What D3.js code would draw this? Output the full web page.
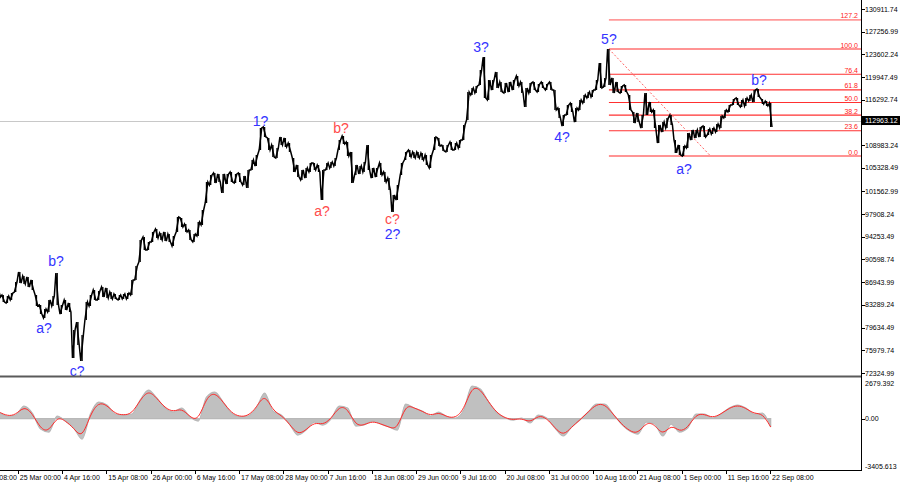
<!DOCTYPE html>
<html><head><meta charset="utf-8">
<script src="https://cdn.jsdelivr.net/npm/d3@7"></script>
<style>
html,body{margin:0;padding:0;background:#fff;overflow:hidden}
svg{display:block;font-family:"Liberation Sans",Arial,sans-serif}
</style>
</head><body>
<svg id="c" width="900" height="485"></svg>
<script>
// ---------- DATA ----------
const firstDay = "2025-03-20T12:00";   // one bar group per day
const highs = [86170,84880,84720,85200,86970,88580,87940,87780,87290,84880,
83270,82630,84080,84720,88420,83270,84080,83590,79250,80530,
78440,83750,84880,85680,85520,86170,86010,85360,85040,84880,
85040,85200,87290,89550,93730,94220,93410,95020,95500,94860,
95020,94700,94380,97430,97270,96310,95340,94700,96630,98560,
103070,104190,104520,104360,104360,104360,104680,104360,104520,104030,
105000,106610,107410,111760,111920,110150,109020,108540,110310,110150,
109340,106930,105800,105000,105320,106130,106130,105800,105000,106130,
106290,106930,109830,110470,109510,107900,105800,105640,106290,109020,
105320,105320,106130,104680,103710,100980,102580,106130,107900,108220,
107900,107900,107740,107410,107410,110310,110150,109020,109020,109510,
109340,109830,112240,117550,118200,118520,121090,123190,119480,119480,
120770,119160,119000,119160,119480,120130,119160,118200,119000,119160,
118840,119160,118840,119160,117870,114980,113850,115460,115780,114980,
116270,117070,117550,117870,119480,122220,119810,124470,119810,119160,
118520,118680,117070,114330,114170,113850,117390,115940,114660,112240,
112720,113370,113850,109830,109020,108860,110950,111440,111440,111920,
112080,111600,111760,112400,113690,114660,115460,116430,116590,116270,
116590,117070,117870,118040,116430,116100,115780];
const lows = [84560,83750,83590,84080,85360,86810,86650,86170,85680,83110,
81820,81180,82140,83110,83270,81820,82470,82140,74740,76830,
74260,80860,83110,84080,84080,84560,84400,84240,84240,84080,
84240,84240,84880,87290,90190,92120,92120,93410,94050,93730,
93570,93410,92770,95020,95820,95020,93730,93410,94380,96150,
99690,102580,102910,103070,101300,102750,103070,102910,103070,102580,
102100,105000,105640,108220,110310,108220,107090,106930,109020,108700,
107900,104680,103870,103390,103710,104680,105000,104680,100170,105000,
105320,105640,108220,109180,107250,102910,104190,104360,104680,105000,
103710,103870,104190,103070,101780,98240,100170,104190,106610,107090,
106930,106930,106610,105800,105320,108220,108860,108060,107900,108220,
108220,108540,109830,113050,117070,117390,118680,116590,116270,117870,
118200,117550,117390,117550,117870,118520,117390,115140,117390,117870,
117550,118200,117870,117870,114660,113370,112080,113850,114330,112720,
114660,115780,116590,116750,117870,118200,118360,118680,117390,117550,
117390,117550,114660,112560,112720,111760,113850,114330,111760,109340,
111120,111760,112240,107740,107410,107250,108540,109830,110150,110310,
110310,110630,110790,111120,111760,113370,114330,115460,115460,115140,
115300,116100,115940,116750,115620,115300,111920];

const yTickLabels = ["130911.74","127256.99","123602.24","119947.49","116292.74",
  "108983.24","105328.49","101562.99","97908.24","94253.49","90598.74","86943.99",
  "83289.24","79634.49","75979.74","72324.99"];
const priceMin = 72324.99, priceMax = 130911.74;
const currentPrice = 112963.12;

const xTickLabels = ["14 Mar 08:00","25 Mar 00:00","4 Apr 16:00","15 Apr 08:00","26 Apr 00:00",
  "6 May 16:00","17 May 08:00","28 May 00:00","7 Jun 16:00","18 Jun 08:00","29 Jun 00:00",
  "9 Jul 16:00","20 Jul 08:00","31 Jul 00:00","10 Aug 16:00","21 Aug 08:00","1 Sep 00:00",
  "11 Sep 16:00","22 Sep 08:00"];

const fibStart = "2025-08-14T12:00";
const fibHigh = 124470, fibLow = 107250;
const fibLevels = ["0.0","23.6","38.2","50.0","61.8","76.4","100.0","127.2"];
const trendLine = [["2025-08-14T12:00",124470],["2025-09-08T00:00",107250]];

const waveText   = ["b?","a?","c?","1?","b?","a?","c?","2?","3?","4?","5?","a?","b?"];
const waveDates  = ["2025-04-03T05:00","2025-03-31T08:00","2025-04-08T07:00","2025-05-22T12:00",
  "2025-06-10T22:00","2025-06-06T08:00","2025-06-23T08:00","2025-06-23T08:00","2025-07-14T16:00",
  "2025-08-03T05:00","2025-08-14T12:00","2025-09-01T14:00","2025-09-19T16:00"];
const wavePrices = [90350,79570,72650,112890,111760,98400,97190,94700,124800,110310,126080,105160,119480];
const waveKind   = ["major","major","major","major","minor","minor","minor","major","major","major","major","major","major"];

// oscillator: one value every 2 days from firstDay
const oscValues = [446,176,243,852,379,-703,-906,176,-162,-636,-1379,311,1122,919,311,243,311,1258,1934,1393,
717,446,717,108,-162,1460,1798,1122,379,128,176,717,1731,514,243,-365,-1109,-771,-230,-433,
-27,852,717,-500,-433,-162,-365,-568,-771,987,717,514,176,446,108,41,581,2204,2001,1122,
379,41,-95,41,-297,243,41,-636,-1176,-568,-95,446,987,987,311,-365,-838,-1041,-230,-365,
-1176,-365,-906,-636,311,311,41,311,717,919,717,311,379,-568];
const oscMax = 2679.392, oscMin = -3405.613;
const oscTickLabels = ["2679.392","0.00","-3405.613"];

// ---------- LAYOUT ----------
const svg = d3.select("#c");
const plotR = 861;
const parse = d3.utcParse("%Y-%m-%dT%H:%M");
const t0 = parse(firstDay);
const days = highs.map((_, i) => d3.utcDay.offset(t0, i));
const x = d3.scaleUtc().domain([t0, days[days.length - 1]]).range([-0.9, 770.7]);
const y = d3.scaleLinear().domain([priceMin, priceMax]).range([373, 9]);
const oscTop = 379, oscBot = 469;
const yo = d3.scaleLinear().domain([oscMin, oscMax]).range([oscBot, oscTop]);

svg.append("clipPath").attr("id","cp").append("rect")
  .attr("x",0).attr("y",0).attr("width",plotR).attr("height",376);
const main = svg.append("g").attr("clip-path","url(#cp)");

// current price line
main.append("line").attr("x1",0).attr("x2",plotR)
  .attr("y1",Math.round(y(currentPrice))+0.5).attr("y2",Math.round(y(currentPrice))+0.5)
  .attr("stroke","#c8c8c8").attr("stroke-width",1);

// fib levels
const fx0 = x(parse(fibStart));
fibLevels.forEach(l => {
  const v = fibLow + (+l) / 100 * (fibHigh - fibLow);
  const yy = y(v);
  const strong = (l === "0.0" || l === "100.0" || l === "127.2");
  main.append("line").attr("x1",fx0).attr("x2",plotR).attr("y1",yy).attr("y2",yy)
    .attr("stroke", l === "127.2" ? "#ff9a9a" : (strong ? "#ff7070" : "#ff3030"))
    .attr("stroke-width", strong ? 1.6 : 1.1);
  main.append("text").attr("x",858).attr("y",yy-1.5).attr("text-anchor","end")
    .attr("font-size",7).attr("fill","#ff2020").text(l);
});
// trend line dashed
main.append("line")
  .attr("x1",x(parse(trendLine[0][0]))).attr("y1",y(trendLine[0][1]))
  .attr("x2",x(parse(trendLine[1][0]))).attr("y2",y(trendLine[1][1]))
  .attr("stroke","#ff6060").attr("stroke-width",1).attr("stroke-dasharray","2,2");

// price path: daily high-low bars + zigzag link
main.append("g").selectAll("line").data(days).join("line")
  .attr("x1",d=>x(d)).attr("x2",d=>x(d))
  .attr("y1",(d,i)=>y(highs[i])).attr("y2",(d,i)=>y(lows[i]))
  .attr("stroke","#000").attr("stroke-width",1.4);
const pts = [];
days.forEach((d, i) => {
  const xi = x(d);
  const mid = (highs[i] + lows[i]) / 2;
  const nm = i < days.length - 1 ? (highs[i+1] + lows[i+1]) / 2 : mid;
  if (nm > mid) { pts.push([xi-1.3, y(lows[i])], [xi+1.3, y(highs[i])]); }
  else { pts.push([xi-1.3, y(highs[i])], [xi+1.3, y(lows[i])]); }
});
main.append("path").attr("d", d3.line()(pts)).attr("fill","none")
  .attr("stroke","#000").attr("stroke-width",1.5).attr("stroke-linejoin","miter");

// wave labels
waveText.forEach((t, i) => {
  svg.append("text").attr("x", x(parse(waveDates[i]))).attr("y", y(wavePrices[i]))
    .attr("text-anchor","middle").attr("dominant-baseline","central")
    .attr("font-size",14).attr("fill", waveKind[i] === "minor" ? "#ff4b4b" : "#3434ff")
    .text(t);
});

// separators & axes
svg.append("line").attr("x1",0).attr("x2",plotR).attr("y1",376.5).attr("y2",376.5)
  .attr("stroke","#5a5a5a").attr("stroke-width",2);
svg.append("line").attr("x1",plotR+0.5).attr("x2",plotR+0.5).attr("y1",0).attr("y2",470)
  .attr("stroke","#000").attr("stroke-width",1);
svg.append("line").attr("x1",0).attr("x2",plotR+1).attr("y1",470.5).attr("y2",470.5)
  .attr("stroke","#000").attr("stroke-width",1);

// right price axis
yTickLabels.forEach(s => {
  const yy = y(+s);
  svg.append("line").attr("x1",plotR).attr("x2",plotR+4).attr("y1",Math.round(yy)+0.5).attr("y2",Math.round(yy)+0.5)
    .attr("stroke","#000");
  svg.append("text").attr("x",865).attr("y",yy).attr("dominant-baseline","central")
    .attr("font-size",7).attr("fill","#000").text(s);
});
// current price tag
const cy = y(currentPrice);
svg.append("rect").attr("x",plotR+1).attr("y",cy-4.5).attr("width",40).attr("height",9).attr("fill","#000");
svg.append("text").attr("x",865).attr("y",cy).attr("dominant-baseline","central")
  .attr("font-size",7).attr("fill","#fff").text(currentPrice.toFixed(2));

// time axis
const tp = d3.utcParse("%Y %d %b %H:%M");
xTickLabels.forEach(s => {
  const xx = x(tp("2025 " + s));
  svg.append("line").attr("x1",Math.round(xx)+0.5).attr("x2",Math.round(xx)+0.5)
    .attr("y1",470).attr("y2",474).attr("stroke","#000");
  svg.append("text").attr("x",xx+2).attr("y",480).attr("font-size",7).attr("fill","#000").text(s);
});

// oscillator panel
const oscDates = oscValues.map((_, k) => d3.utcDay.offset(t0, 2*k));
const osc = svg.append("g");
osc.append("path")
  .attr("d", d3.area().x((d,k)=>x(oscDates[k])).y0(yo(0)).y1(d=>yo(d)).curve(d3.curveMonotoneX)(oscValues))
  .attr("fill","#c0c0c0").attr("stroke","#b8b8b8").attr("stroke-width",1.2);
osc.append("path")
  .attr("d", d3.line().x((d,k)=>x(oscDates[k])).y(d=>yo(d)).curve(d3.curveBasis)(oscValues))
  .attr("fill","none").attr("stroke","#ff2a2a").attr("stroke-width",1);
[[oscMax, oscTickLabels[0], 4],[0, oscTickLabels[1], 0],[oscMin, oscTickLabels[2], -3]].forEach(([v, s, off]) => {
  const yy = yo(v);
  if (v === 0) svg.append("line").attr("x1",plotR).attr("x2",plotR+4).attr("y1",Math.round(yy)+0.5).attr("y2",Math.round(yy)+0.5).attr("stroke","#000");
  svg.append("text").attr("x",865).attr("y",yy+off).attr("dominant-baseline","central")
    .attr("font-size",7).attr("fill","#000").text(s);
});
</script>
</body></html>
